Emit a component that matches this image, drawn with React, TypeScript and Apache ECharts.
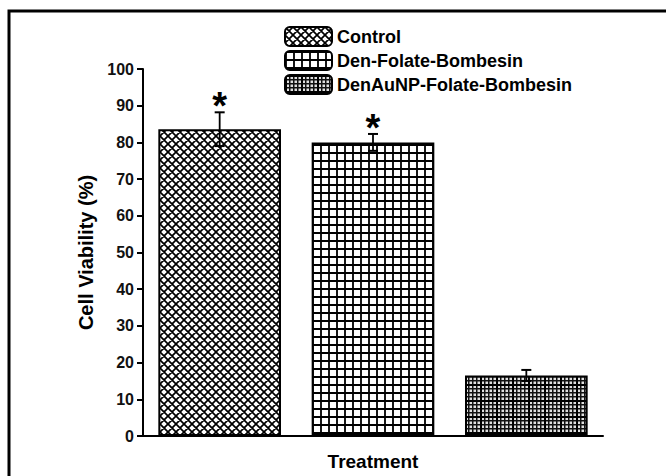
import React, { useEffect, useRef } from "react";
import * as echarts from "echarts";

const categories = ["Control", "Den-Folate-Bombesin", "DenAuNP-Folate-Bombesin"];
const viability = [83.6, 80.0, 16.5];
const errors = [4.6, 2.3, 1.5];
const significant = [true, true, false];
const yTicks = { min: 0, max: 100, interval: 10 };

const svgUrl = (s: string) => "data:image/svg+xml;charset=utf-8," + encodeURIComponent(s);

const crossTile = svgUrl(
  "<svg xmlns='http://www.w3.org/2000/svg' width='8' height='8'><rect width='8' height='8' fill='white'/>" +
    "<path d='M0 0L8 8M8 0L0 8M-2 6L2 10M6 -2L10 2M-2 2L2 -2M6 10L10 6' stroke='black' stroke-width='1.7' fill='none'/></svg>"
);
const gridTile = svgUrl(
  "<svg xmlns='http://www.w3.org/2000/svg' width='8' height='8'><rect width='8' height='8' fill='white'/>" +
    "<path d='M1 0V8M0 1H8' stroke='black' stroke-width='1.8' fill='none'/></svg>"
);
const fineTile = svgUrl(
  "<svg xmlns='http://www.w3.org/2000/svg' width='16' height='16'><rect width='16' height='16' fill='#e0e0e0'/>" +
    "<path d='M0.75 0V16M4.75 0V16M8.75 0V16M12.75 0V16M0 0.75H16M0 4.75H16M0 8.75H16M0 12.75H16' stroke='#111' stroke-width='1.5' fill='none'/>" +
    "<path d='M1 0V16M0 1H16' stroke='#000' stroke-width='2' fill='none'/></svg>"
);

const patterns = [
  { image: crossTile, repeat: "repeat", imageWidth: 8, imageHeight: 8 },
  { image: gridTile, repeat: "repeat", imageWidth: 8, imageHeight: 8 },
  { image: fineTile, repeat: "repeat", imageWidth: 16, imageHeight: 16 },
];

const FONT = "Liberation Sans";

export default function App() {
  const ref = useRef<HTMLDivElement>(null);

  useEffect(() => {
    if (!ref.current) return;
    const chart = echarts.init(ref.current, undefined, { renderer: "svg" });

    const barSeries = categories.map((name, i) => ({
      name,
      type: "bar",
      data: categories.map((_, j) => (j === i ? viability[i] : "-")),
      barGap: "-100%",
      barWidth: "80%",
      itemStyle: { color: patterns[i] as any, borderColor: "#000", borderWidth: 2 },
      z: 2,
    }));

    const errData = categories.map((_, i) => [i, viability[i], errors[i], significant[i] ? 1 : 0]);

    const option: any = {
      animation: false,
      backgroundColor: "#fff",
      graphic: [
        {
          type: "rect",
          shape: { x: 9, y: 11, width: 720, height: 520 },
          style: { fill: "none", stroke: "#000", lineWidth: 3 },
          silent: true,
          z: 100,
        },
      ],
      legend: {
        data: categories,
        orient: "vertical",
        left: 284,
        top: 26,
        padding: 0,
        itemWidth: 47,
        itemHeight: 19,
        itemGap: 3,
        textStyle: { fontFamily: FONT, fontWeight: "bold", fontSize: 18, color: "#000" },
        selectedMode: false,
      },
      grid: { left: 143, right: 63, top: 69, bottom: 34, containLabel: false },
      xAxis: {
        type: "category",
        data: categories,
        name: "Treatment",
        nameLocation: "middle",
        nameGap: 16,
        nameTextStyle: { fontFamily: FONT, fontWeight: "bold", fontSize: 19, color: "#000", verticalAlign: "top" },
        axisLine: { lineStyle: { color: "#000", width: 2 } },
        axisTick: { alignWithLabel: true, length: 5, lineStyle: { color: "#000", width: 2 } },
        axisLabel: { show: false },
        splitLine: { show: false },
      },
      yAxis: {
        type: "value",
        min: yTicks.min,
        max: yTicks.max,
        interval: yTicks.interval,
        name: "Cell Viability (%)",
        nameLocation: "middle",
        nameGap: 42,
        nameTextStyle: { fontFamily: FONT, fontWeight: "bold", fontSize: 20, color: "#000" },
        axisLine: { show: true, lineStyle: { color: "#000", width: 2 } },
        axisTick: { show: true, length: 6, lineStyle: { color: "#000", width: 2 } },
        axisLabel: { fontFamily: FONT, fontWeight: "bold", fontSize: 16, color: "#111", margin: 9 },
        splitLine: { show: false },
      },
      series: [
        ...barSeries,
        {
          type: "custom",
          name: "errors",
          data: errData,
          z: 10,
          encode: { x: 0, y: 1 },
          renderItem: (params: any, api: any) => {
            const i = api.value(0);
            const v = api.value(1);
            const e = api.value(2);
            const star = api.value(3);
            const top = api.coord([i, v + e]);
            const bot = api.coord([i, v - e]);
            const cap = 5;
            const children: any[] = [
              { type: "line", shape: { x1: top[0], y1: top[1], x2: bot[0], y2: bot[1] }, style: { stroke: "#000", lineWidth: 1.8 } },
              { type: "line", shape: { x1: top[0] - cap, y1: top[1], x2: top[0] + cap, y2: top[1] }, style: { stroke: "#000", lineWidth: 2 } },
              { type: "line", shape: { x1: bot[0] - cap, y1: bot[1], x2: bot[0] + cap, y2: bot[1] }, style: { stroke: "#000", lineWidth: 2 } },
            ];
            if (star) {
              children.push({
                type: "text",
                x: top[0],
                y: top[1] - 6,
                style: {
                  text: "*",
                  fontFamily: FONT,
                  fontWeight: "bold",
                  fontSize: 38,
                  fill: "#000",
                  textAlign: "center",
                  textVerticalAlign: "middle",
                },
              });
            }
            return { type: "group", children };
          },
        },
      ],
    };

    chart.setOption(option);
    return () => chart.dispose();
  }, []);

  return (
    <div
      ref={ref}
      style={{ position: "absolute", left: 0, top: 0, width: 666, height: 476, background: "#fff" }}
    />
  );
}
